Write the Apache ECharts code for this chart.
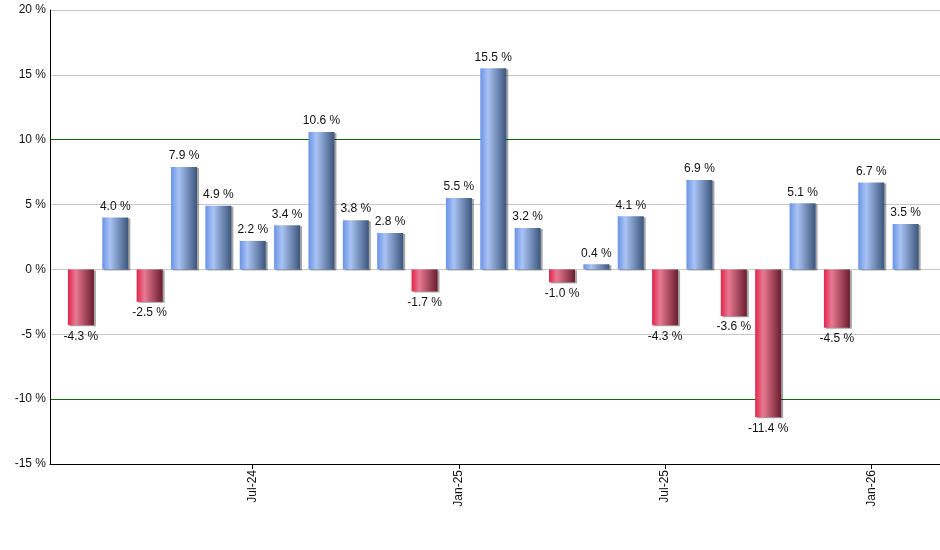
<!DOCTYPE html>
<html>
<head>
<meta charset="utf-8">
<script src="https://cdn.jsdelivr.net/npm/echarts@6/dist/echarts.min.js"></script>
<style>html,body{margin:0;padding:0;background:#fff}#c{width:940px;height:550px}</style>
</head>
<body>
<div id="c"></div>
<script>
const months = ['Feb-24','Mar-24','Apr-24','May-24','Jun-24','Jul-24','Aug-24','Sep-24','Oct-24','Nov-24','Dec-24','Jan-25','Feb-25','Mar-25','Apr-25','May-25','Jun-25','Jul-25','Aug-25','Sep-25','Oct-25','Nov-25','Dec-25','Jan-26','Feb-26'];
const returns = [-4.3, 4.0, -2.5, 7.9, 4.9, 2.2, 3.4, 10.6, 3.8, 2.8, -1.7, 5.5, 15.5, 3.2, -1.0, 0.4, 4.1, -4.3, 6.9, -3.6, -11.4, 5.1, -4.5, 6.7, 3.5];
const tickMonths = ['Jul-24','Jan-25','Jul-25','Jan-26'];
const yTicks = [-15, -10, -5, 0, 5, 10, 15, 20];

const blueGrad = new echarts.graphic.LinearGradient(0,0,1,0,[
  {offset:0,color:'#6a92e6'},{offset:0.3,color:'#a9c4f4'},{offset:1,color:'#3c557c'}]);
const redGrad = new echarts.graphic.LinearGradient(0,0,1,0,[
  {offset:0,color:'#e0244c'},{offset:0.3,color:'#e87a92'},{offset:1,color:'#6a1c2e'}]);

const tickIdx = tickMonths.map(m => months.indexOf(m));
const data = returns.map((v,i) => ({
  value:[i,v],
  itemStyle:{color: v>=0 ? blueGrad : redGrad},
  label:{position: v>=0 ? 'top' : 'bottom'}
}));

const chart = echarts.init(document.getElementById('c'));
chart.setOption({
  animation:false,
  grid:{left:50,right:0,top:10,bottom:86},
  xAxis:{
    type:'value', min:-0.9, max:25.0,
    splitLine:{show:false},
    axisLine:{show:true,onZero:false,lineStyle:{color:'#000',width:1}},
    axisTick:{show:true,customValues:tickIdx,length:5,lineStyle:{color:'#000'}},
    axisLabel:{show:true,customValues:tickIdx,rotate:90,color:'#111',fontFamily:'Liberation Sans, Arial, sans-serif',fontSize:12,margin:6,
      formatter:v=>months[Math.round(v)]}
  },
  yAxis:{
    type:'value', min:-15, max:20, interval:5,
    axisLine:{show:true,onZero:false,lineStyle:{color:'#000',width:1}},
    axisTick:{show:false},
    axisLabel:{color:'#111',fontFamily:'Liberation Sans, Arial, sans-serif',fontSize:12,margin:4,formatter:v=>v+' %'},
    splitLine:{show:true,lineStyle:{width:1,color:yTicks.map(t=>Math.abs(t)===10?'#0b6a0b':'#c8c8c8')}}
  },
  series:[{
    type:'bar',
    barWidth:26,
    data:data,
    itemStyle:{shadowColor:'rgba(0,0,0,0.35)',shadowOffsetX:2,shadowOffsetY:1,shadowBlur:0},
    label:{show:true,distance:5,color:'#111',fontFamily:'Liberation Sans, Arial, sans-serif',fontSize:12,
      formatter:p=>p.value[1].toFixed(1)+' %'}
  }]
});
</script>
</body>
</html>
